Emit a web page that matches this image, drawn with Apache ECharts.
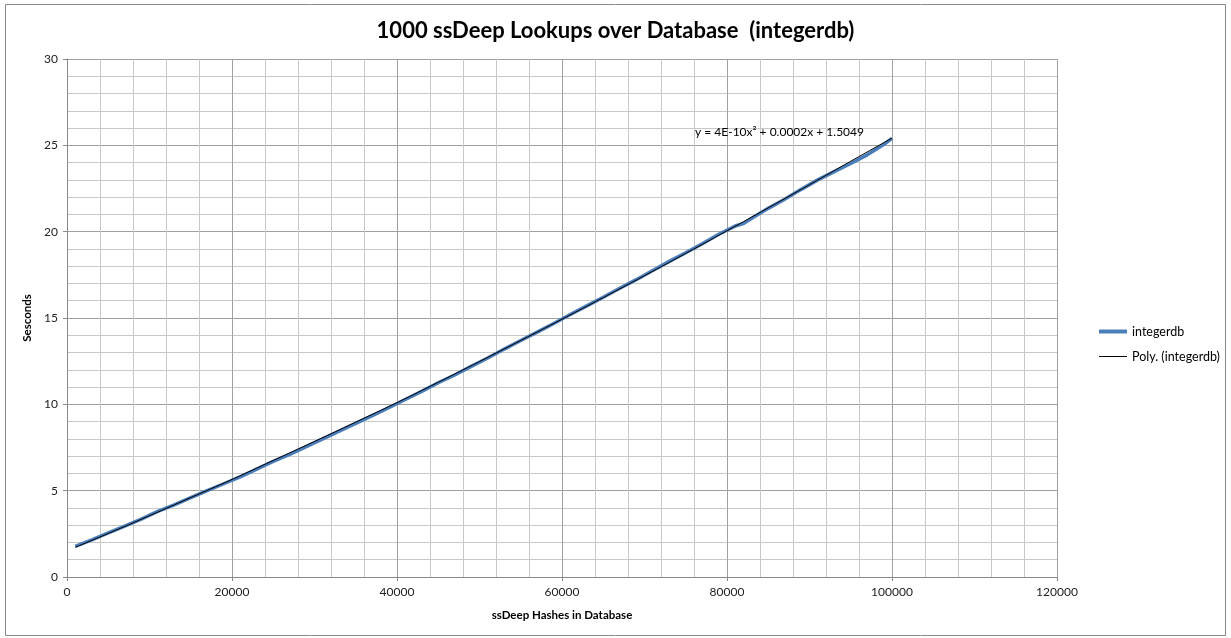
<!DOCTYPE html>
<html>
<head>
<meta charset="utf-8">
<script src="https://cdn.jsdelivr.net/npm/echarts@6/dist/echarts.min.js"></script>
<style>html,body{margin:0;padding:0;background:#fff;}#c{width:1231px;height:638px;}</style>
</head>
<body>
<div id="c"></div>
<script>
// Measured series: hashes in database vs seconds
const hashes = [1000,3000,5000,7000,9000,11000,13000,15000,17000,19000,21000,23000,25000,27000,29000,31000,33000,35000,37000,39000,41000,43000,45000,47000,49000,51000,53000,55000,57000,59000,61000,63000,65000,67000,69000,71000,73000,75000,77000,79000,81000,82000,83000,85000,87000,89000,91000,93000,95000,97000,99000,100000];
const seconds = [1.78,2.15,2.55,2.95,3.35,3.80,4.18,4.60,5.00,5.40,5.80,6.25,6.70,7.10,7.55,8.00,8.45,8.90,9.35,9.80,10.28,10.75,11.25,11.70,12.20,12.68,13.20,13.70,14.18,14.68,15.20,15.70,16.20,16.72,17.22,17.75,18.28,18.78,19.30,19.85,20.33,20.47,20.78,21.35,21.88,22.45,23.00,23.48,23.95,24.45,25.05,25.40];
// Trend line
const trendX = [1000,5000,10000,15000,20000,25000,30000,35000,40000,45000,50000,55000,60000,65000,70000,75000,80000,85000,90000,95000,100000];
const trendY = [1.72,2.52,3.55,4.60,5.65,6.75,7.85,8.97,10.10,11.28,12.48,13.70,14.93,16.18,17.45,18.74,20.05,21.38,22.72,24.08,25.42];
const xTicks = [0,20000,40000,60000,80000,100000,120000];
const yTicks = [0,5,10,15,20,25,30];
const seriesNames = ['integerdb','Poly. (integerdb)'];
const equation = 'y = 4E-10x² + 0.0002x + 1.5049';
const titleText = '1000 ssDeep Lookups over Database  (integerdb)';

const FONT = 'Lato, "Open Sans", sans-serif';
const chart = echarts.init(document.getElementById('c'), null, {renderer:'canvas'});
chart.setOption({
  animation:false,
  backgroundColor:'#fff',
  title:{text:titleText,left:'center',top:15,textStyle:{fontFamily:FONT,fontSize:22,fontWeight:'bold',color:'#000'}},
  grid:{left:67,right:174,top:59,bottom:61,containLabel:false},
  legend:[
    {data:[{name:seriesNames[0]}],orient:'vertical',left:1094,top:320,itemWidth:28,itemHeight:4,icon:'rect',textStyle:{fontFamily:FONT,fontSize:12.5,color:'#000'},itemGap:2},
    {data:[{name:seriesNames[1]}],orient:'vertical',left:1094,top:345,itemWidth:28,itemHeight:1,icon:'rect',textStyle:{fontFamily:FONT,fontSize:12.5,color:'#000'}}
  ],
  xAxis:{type:'value',min:xTicks[0],max:xTicks[xTicks.length-1],interval:20000,
    name:'ssDeep Hashes in Database',nameLocation:'middle',nameGap:32,
    nameTextStyle:{fontFamily:FONT,fontSize:11.5,fontWeight:'bold',color:'#000'},
    axisLine:{show:true,lineStyle:{color:'#888',width:1}},
    axisTick:{show:true,length:4,lineStyle:{color:'#888'}},
    axisLabel:{fontFamily:FONT,fontSize:12,color:'#222',margin:9,formatter:v=>String(v)},
    splitLine:{show:true,lineStyle:{color:'#a0a0a0',width:1}},
    minorTick:{show:false,splitNumber:5},
    minorSplitLine:{show:true,lineStyle:{color:'#c8c8c8',width:1}}
  },
  yAxis:{type:'value',min:yTicks[0],max:yTicks[yTicks.length-1],interval:5,
    name:'Sesconds',nameLocation:'middle',nameGap:33,nameRotate:90,
    nameTextStyle:{fontFamily:FONT,fontSize:11.5,fontWeight:'bold',color:'#000'},
    axisLine:{show:true,lineStyle:{color:'#888',width:1}},
    axisTick:{show:true,length:4,lineStyle:{color:'#888'}},
    axisLabel:{fontFamily:FONT,fontSize:12,color:'#222',margin:9},
    splitLine:{show:true,lineStyle:{color:'#a0a0a0',width:1}},
    minorTick:{show:false,splitNumber:5},
    minorSplitLine:{show:true,lineStyle:{color:'#c8c8c8',width:1}}
  },
  graphic:[
    {type:'rect',shape:{x:5.5,y:4.5,width:1220,height:631},style:{fill:'none',stroke:'#8a8a8a',lineWidth:1},silent:true,z:-1},
    {type:'text',left:695,top:126,style:{text:equation,fontFamily:FONT,fontSize:12,fill:'#000'},z:10}
  ],
  series:[
    {name:seriesNames[0],type:'line',data:hashes.map((h,i)=>[h,seconds[i]]),showSymbol:false,symbol:'none',
      lineStyle:{color:'#4a7ebb',width:3.5},itemStyle:{color:'#4a7ebb'},z:2},
    {name:seriesNames[1],type:'line',data:trendX.map((h,i)=>[h,trendY[i]]),showSymbol:false,symbol:'none',smooth:true,
      lineStyle:{color:'#000',width:1},itemStyle:{color:'#000'},z:3}
  ]
});
</script>
</body>
</html>
